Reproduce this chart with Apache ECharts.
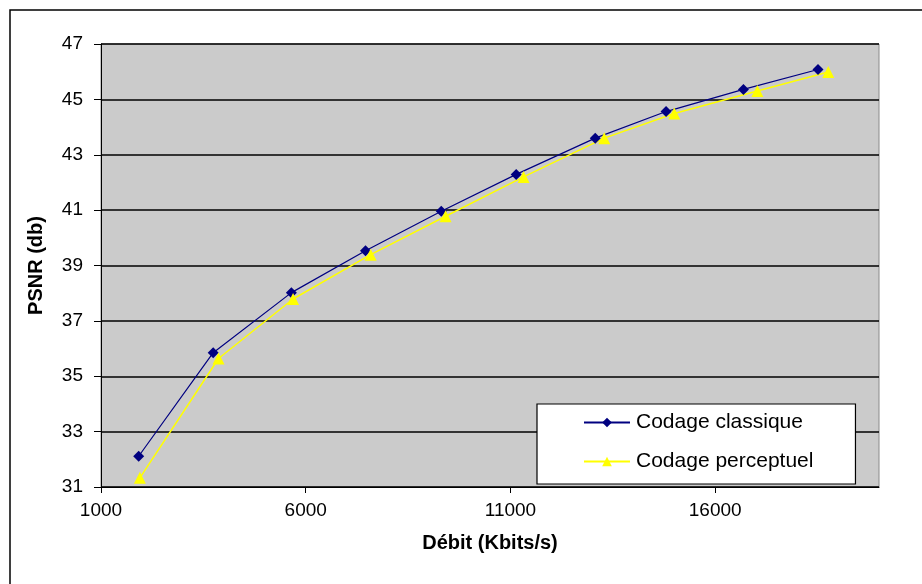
<!DOCTYPE html>
<html>
<head>
<meta charset="utf-8">
<script src="https://cdn.jsdelivr.net/npm/echarts@6/dist/echarts.min.js"></script>
<style>
html,body{margin:0;padding:0;background:#fff;}
#chart{width:922px;height:584px;}
</style>
</head>
<body>
<div id="chart"></div>
<script>
const seriesNames = ['Codage classique', 'Codage perceptuel'];
const classiqueX = [1920, 3740, 5650, 7460, 9310, 11140, 13070, 14800, 16690, 18510];
const classiqueY = [32.11, 35.85, 38.02, 39.53, 40.96, 42.29, 43.60, 44.56, 45.36, 46.08];
const perceptuelX = [1950, 3870, 5690, 7585, 9415, 11320, 13290, 15000, 17030, 18760];
const perceptuelY = [31.33, 35.64, 37.79, 39.39, 40.78, 42.20, 43.60, 44.49, 45.30, 45.99];
const xTicks = [1000, 6000, 11000, 16000];
const yTicks = [31, 33, 35, 37, 39, 41, 43, 45, 47];
const xTitle = 'Débit (Kbits/s)';
const yTitle = 'PSNR (db)';

const FONT = '"Liberation Sans", Arial, sans-serif';
const chart = echarts.init(document.getElementById('chart'));
const pair = (xs, ys) => xs.map((x, i) => [x, ys[i]]);

chart.setOption({
  animation: false,
  textStyle: { fontFamily: FONT },
  graphic: [{
    type: 'rect',
    shape: { x: 10, y: 10, width: 940, height: 600 },
    style: { fill: 'none', stroke: '#000', lineWidth: 1.5 },
    z: -10
  }],
  grid: {
    left: 101, right: 43, top: 44, bottom: 97,
    show: true, backgroundColor: '#cbcbcb', borderColor: '#8a8a8a', borderWidth: 1
  },
  xAxis: {
    type: 'value', min: 1000, max: 20000,
    name: xTitle, nameLocation: 'middle', nameGap: 46,
    nameTextStyle: { fontFamily: FONT, fontSize: 20, fontWeight: 'bold', color: '#000' },
    axisLine: { show: true, lineStyle: { color: '#000', width: 1 } },
    axisTick: { show: true, inside: false, length: 6, customValues: xTicks, lineStyle: { color: '#000' } },
    axisLabel: { customValues: xTicks, margin: 14, fontSize: 19, color: '#000', fontFamily: FONT,
                 formatter: v => String(v) },
    splitLine: { show: false }
  },
  yAxis: {
    type: 'value', min: 31, max: 47,
    name: yTitle, nameLocation: 'middle', nameGap: 55, nameRotate: 90,
    nameTextStyle: { fontFamily: FONT, fontSize: 20, fontWeight: 'bold', color: '#000' },
    axisLine: { show: true, lineStyle: { color: '#000', width: 1 } },
    axisTick: { show: true, inside: false, length: 7, customValues: yTicks, lineStyle: { color: '#000' } },
    axisLabel: { customValues: yTicks, margin: 18, fontSize: 19, color: '#000', fontFamily: FONT },
    splitLine: { show: true, lineStyle: { color: '#000', width: 1.5 } }
  },
  legend: {
    orient: 'vertical',
    left: 537, top: 404,
    padding: [8, 42, 12, 46],
    backgroundColor: '#fff',
    borderColor: '#000', borderWidth: 1.2, borderRadius: 0,
    itemWidth: 46, itemHeight: 12, itemGap: 18,
    textStyle: { fontSize: 21, color: '#000', fontFamily: FONT, padding: [0, 0, 0, 1] },
    data: seriesNames
  },
  series: [
    {
      name: seriesNames[0], type: 'line',
      data: pair(classiqueX, classiqueY),
      symbol: 'diamond', symbolSize: 11,
      lineStyle: { color: '#000080', width: 1.2 },
      itemStyle: { color: '#000080' }
    },
    {
      name: seriesNames[1], type: 'line',
      data: pair(perceptuelX, perceptuelY),
      symbol: 'triangle', symbolSize: 12,
      lineStyle: { color: '#ffff00', width: 1.5 },
      itemStyle: { color: '#ffff00' }
    }
  ]
});
</script>
</body>
</html>
